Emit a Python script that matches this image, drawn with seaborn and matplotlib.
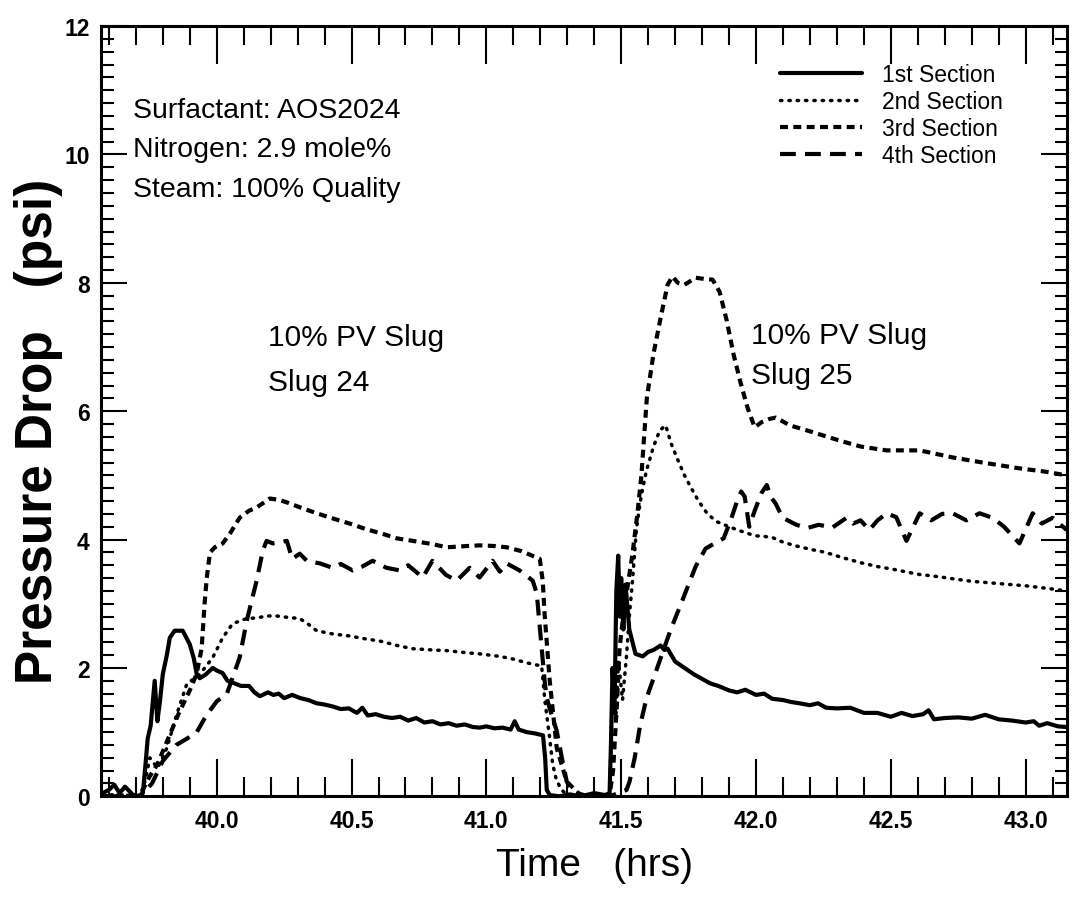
import matplotlib
matplotlib.use('Agg')
import matplotlib.pyplot as plt
from matplotlib.ticker import MultipleLocator
import pandas as pd
import seaborn as sns

# Section 1 (solid)
time_1 = [39.577, 39.60, 39.62, 39.64, 39.66, 39.69, 39.71, 39.726, 39.735, 39.744,
          39.755, 39.77, 39.78, 39.79, 39.80, 39.815, 39.826, 39.844, 39.874, 39.89,
          39.90, 39.915, 39.926, 39.937, 39.96, 39.985, 40.0, 40.022, 40.04, 40.06,
          40.09, 40.12, 40.14, 40.16, 40.19, 40.21, 40.23, 40.25, 40.28, 40.31,
          40.34, 40.37, 40.40, 40.43, 40.46, 40.49, 40.52, 40.54, 40.56, 40.59,
          40.62, 40.65, 40.68, 40.71, 40.74, 40.77, 40.80, 40.83, 40.86, 40.89,
          40.92, 40.95, 40.975, 41.0, 41.03, 41.06, 41.09, 41.105, 41.12, 41.15,
          41.18, 41.21, 41.218, 41.224, 41.235, 41.27, 41.31, 41.35, 41.40, 41.44,
          41.457, 41.462, 41.468, 41.475, 41.482, 41.489, 41.495, 41.50, 41.508, 41.516,
          41.53, 41.553, 41.58, 41.60, 41.62, 41.646, 41.66, 41.672, 41.70, 41.735,
          41.77, 41.80, 41.83, 41.86, 41.90, 41.93, 41.96, 42.0, 42.03, 42.06,
          42.10, 42.13, 42.16, 42.20, 42.23, 42.26, 42.30, 42.35, 42.40, 42.45,
          42.50, 42.54, 42.58, 42.62, 42.64, 42.66, 42.70, 42.75, 42.80, 42.85,
          42.90, 42.95, 43.00, 43.03, 43.05, 43.08, 43.12, 43.152]
dp_1 = [0.05, 0.10, 0.18, 0.05, 0.15, 0.02, 0.0, 0.05, 0.45, 0.90,
        1.10, 1.80, 1.17, 1.50, 1.90, 2.20, 2.47, 2.58, 2.58, 2.45,
        2.37, 2.15, 1.90, 1.84, 1.90, 2.00, 1.96, 1.92, 1.80, 1.77,
        1.72, 1.72, 1.62, 1.56, 1.62, 1.58, 1.60, 1.53, 1.58, 1.53,
        1.50, 1.45, 1.43, 1.40, 1.36, 1.37, 1.30, 1.38, 1.26, 1.28,
        1.24, 1.22, 1.24, 1.18, 1.22, 1.15, 1.17, 1.12, 1.14, 1.10,
        1.12, 1.08, 1.07, 1.09, 1.06, 1.07, 1.04, 1.17, 1.04, 1.00,
        0.98, 0.95, 0.60, 0.10, 0.02, 0.0, 0.03, 0.0, 0.05, 0.02,
        0.05, 0.80, 2.00, 1.30, 3.20, 3.75, 2.80, 3.40, 2.60, 3.30,
        2.60, 2.22, 2.18, 2.25, 2.28, 2.35, 2.28, 2.30, 2.10, 2.00,
        1.90, 1.83, 1.76, 1.72, 1.65, 1.62, 1.66, 1.58, 1.60, 1.52,
        1.50, 1.47, 1.45, 1.42, 1.45, 1.38, 1.37, 1.38, 1.30, 1.30,
        1.24, 1.30, 1.25, 1.28, 1.34, 1.20, 1.22, 1.23, 1.21, 1.27,
        1.20, 1.18, 1.15, 1.17, 1.10, 1.14, 1.09, 1.08]

# Section 2 (dotted)
time_2 = [39.577, 39.65, 39.70, 39.726, 39.74, 39.752, 39.781, 39.815, 39.852, 39.889,
          39.937, 39.985, 40.022, 40.059, 40.111, 40.15, 40.185, 40.222, 40.26, 40.308,
          40.34, 40.371, 40.43, 40.49, 40.556, 40.604, 40.679, 40.727, 40.80, 40.853,
          40.92, 40.975, 41.05, 41.098, 41.15, 41.205, 41.216, 41.235, 41.246, 41.26,
          41.279, 41.30, 41.35, 41.40, 41.457, 41.468, 41.48, 41.49, 41.505, 41.52,
          41.53, 41.542, 41.557, 41.575, 41.594, 41.62, 41.643, 41.665, 41.685, 41.706,
          41.735, 41.76, 41.787, 41.82, 41.854, 41.90, 41.932, 41.995, 42.03, 42.062,
          42.10, 42.15, 42.20, 42.258, 42.32, 42.388, 42.45, 42.518, 42.60, 42.68,
          42.729, 42.80, 42.914, 43.00, 43.08, 43.152]
dp_2 = [0.02, 0.03, 0.0, 0.10, 0.35, 0.60, 0.44, 0.75, 1.28, 1.75,
        1.90, 2.16, 2.47, 2.69, 2.77, 2.78, 2.81, 2.81, 2.79, 2.77,
        2.68, 2.58, 2.53, 2.50, 2.45, 2.42, 2.34, 2.30, 2.28, 2.27,
        2.24, 2.22, 2.18, 2.14, 2.08, 2.03, 1.53, 0.90, 0.50, 0.25,
        0.10, 0.02, 0.0, 0.02, 0.0, 1.80, 1.20, 2.10, 1.50, 2.20,
        2.80, 3.36, 4.19, 4.70, 5.08, 5.45, 5.70, 5.78, 5.50, 5.28,
        5.00, 4.80, 4.60, 4.40, 4.28, 4.20, 4.15, 4.06, 4.05, 4.03,
        3.96, 3.90, 3.85, 3.80, 3.72, 3.64, 3.58, 3.53, 3.46, 3.42,
        3.39, 3.35, 3.31, 3.28, 3.24, 3.20]

# Section 3 (short dashes)
time_3 = [39.577, 39.70, 39.726, 39.75, 39.78, 39.82, 39.86, 39.90, 39.925, 39.944,
          39.955, 39.963, 39.975, 39.993, 40.022, 40.05, 40.085, 40.12, 40.148, 40.197,
          40.23, 40.26, 40.31, 40.371, 40.43, 40.493, 40.556, 40.615, 40.667, 40.727,
          40.80, 40.853, 40.93, 40.975, 41.03, 41.075, 41.13, 41.198, 41.209, 41.216,
          41.235, 41.261, 41.298, 41.346, 41.40, 41.457, 41.47, 41.485, 41.494, 41.51,
          41.525, 41.542, 41.56, 41.575, 41.595, 41.62, 41.646, 41.672, 41.69, 41.71,
          41.735, 41.776, 41.81, 41.839, 41.865, 41.891, 41.917, 41.943, 41.969, 41.995,
          42.021, 42.05, 42.073, 42.10, 42.125, 42.19, 42.258, 42.32, 42.388, 42.484,
          42.607, 42.729, 42.855, 42.977, 43.07, 43.152]
dp_3 = [0.0, 0.02, 0.10, 0.30, 0.50, 0.90, 1.30, 1.65, 1.90, 2.30,
        3.00, 3.40, 3.80, 3.88, 3.94, 4.10, 4.34, 4.45, 4.50, 4.64,
        4.62, 4.58, 4.50, 4.41, 4.33, 4.25, 4.16, 4.09, 4.02, 3.98,
        3.93, 3.88, 3.90, 3.91, 3.90, 3.88, 3.82, 3.70, 3.36, 2.84,
        1.80, 0.75, 0.23, 0.03, 0.0, 0.02, 0.40, 1.50, 2.31, 2.90,
        3.30, 3.78, 4.40, 5.00, 6.20, 6.90, 7.45, 7.97, 8.10, 8.00,
        7.97, 8.08, 8.06, 8.05, 7.86, 7.42, 6.88, 6.44, 6.05, 5.75,
        5.83, 5.88, 5.90, 5.84, 5.78, 5.70, 5.61, 5.53, 5.45, 5.39,
        5.39, 5.28, 5.19, 5.11, 5.06, 5.00]

# Section 4 (long dashes)
time_4 = [39.577, 39.70, 39.72, 39.76, 39.80, 39.85, 39.89, 39.926, 39.96, 40.0,
          40.037, 40.085, 40.111, 40.148, 40.171, 40.185, 40.208, 40.26, 40.28, 40.308,
          40.334, 40.382, 40.43, 40.46, 40.504, 40.54, 40.578, 40.63, 40.679, 40.71,
          40.764, 40.80, 40.85, 40.89, 40.938, 40.975, 41.023, 41.05, 41.075, 41.123,
          41.172, 41.187, 41.205, 41.216, 41.224, 41.24, 41.261, 41.28, 41.298, 41.32,
          41.37, 41.457, 41.49, 41.52, 41.531, 41.55, 41.57, 41.594, 41.631, 41.683,
          41.735, 41.776, 41.813, 41.85, 41.88, 41.906, 41.93, 41.945, 41.958, 41.975,
          41.995, 42.021, 42.04, 42.054, 42.073, 42.099, 42.15, 42.19, 42.232, 42.284,
          42.336, 42.36, 42.388, 42.42, 42.451, 42.484, 42.52, 42.558, 42.607, 42.65,
          42.69, 42.729, 42.78, 42.829, 42.877, 42.92, 42.977, 43.026, 43.06, 43.10,
          43.152]
dp_4 = [0.0, 0.0, 0.02, 0.20, 0.55, 0.80, 0.90, 1.00, 1.25, 1.48,
        1.59, 2.16, 2.73, 3.36, 3.83, 3.98, 3.94, 3.98, 3.70, 3.78,
        3.67, 3.63, 3.56, 3.62, 3.52, 3.58, 3.67, 3.56, 3.52, 3.60,
        3.41, 3.67, 3.45, 3.36, 3.56, 3.41, 3.67, 3.50, 3.63, 3.52,
        3.36, 3.16, 2.31, 1.80, 1.53, 1.30, 1.02, 0.60, 0.23, 0.08,
        0.0, 0.0, 0.05, 0.10, 0.23, 0.60, 1.10, 1.53, 1.97, 2.59,
        3.14, 3.58, 3.86, 3.95, 4.02, 4.30, 4.60, 4.75, 4.67, 4.20,
        4.45, 4.73, 4.85, 4.67, 4.56, 4.34, 4.23, 4.18, 4.23, 4.19,
        4.34, 4.25, 4.30, 4.15, 4.30, 4.41, 4.35, 3.98, 4.41, 4.30,
        4.40, 4.41, 4.30, 4.41, 4.34, 4.20, 3.94, 4.41, 4.25, 4.34,
        4.15]

section_names = ['1st Section', '2nd Section', '3rd Section', '4th Section']
x_ticks = [40.0, 40.5, 41.0, 41.5, 42.0, 42.5, 43.0]
y_ticks = [0, 2, 4, 6, 8, 10, 12]


def main():
    sns.set_style('ticks')
    plt.rcParams['font.family'] = ['Liberation Sans', 'DejaVu Sans']
    plt.rcParams['text.color'] = 'black'
    plt.rcParams['axes.labelcolor'] = 'black'
    plt.rcParams['xtick.color'] = 'black'
    plt.rcParams['ytick.color'] = 'black'

    fig = plt.figure(figsize=(10.72, 9.04), dpi=100)
    ax = fig.add_axes([0.094, 0.118, 0.901, 0.852])

    styles = [
        dict(lw=3.0, linestyle='-'),
        dict(lw=2.5, linestyle=(0, (0.4, 2.0)), dash_capstyle='round'),
        dict(lw=3.0, linestyle=(0, (1.9, 1.3))),
        dict(lw=3.0, linestyle=(0, (3.8, 2.2))),
    ]
    series = [(time_1, dp_1), (time_2, dp_2), (time_3, dp_3), (time_4, dp_4)]
    for (t, dp), name, st in zip(series, section_names, styles):
        df = pd.DataFrame({'time': t, 'dp': dp})
        sns.lineplot(data=df, x='time', y='dp', ax=ax, color='black',
                     label=name, sort=False, **st)

    ax.set_xlim(39.57, 43.152)
    ax.set_ylim(0, 12)
    ax.set_xticks(x_ticks)
    ax.set_xticklabels([f'{v:.1f}' for v in x_ticks])
    ax.set_yticks(y_ticks)
    ax.xaxis.set_minor_locator(MultipleLocator(0.1))
    ax.yaxis.set_minor_locator(MultipleLocator(0.2))

    for sp in ax.spines.values():
        sp.set_visible(True)
        sp.set_linewidth(2.2)
        sp.set_color('black')
    ax.tick_params(axis='both', which='both', direction='in', color='black',
                   labelcolor='black', top=True, right=True, width=1.5)
    ax.tick_params(axis='x', which='major', length=27, pad=9)
    ax.tick_params(axis='x', which='minor', length=14)
    ax.tick_params(axis='y', which='major', length=19, pad=8)
    ax.tick_params(axis='y', which='minor', length=9)
    for lab in ax.get_xticklabels() + ax.get_yticklabels():
        lab.set_fontsize(16.5)
        lab.set_fontweight('bold')

    ax.set_xlabel('Time   (hrs)', fontsize=28, color='black')
    ax.xaxis.set_label_coords(0.511, -0.066)
    ax.set_ylabel('Pressure Drop   (psi)', fontsize=37, fontweight='bold',
                  color='black')
    ax.yaxis.set_label_coords(-0.039, 0.475)

    ax.text(39.69, 10.59, 'Surfactant: AOS2024', fontsize=20.5, va='baseline')
    ax.text(39.69, 9.97, 'Nitrogen: 2.9 mole%', fontsize=20.5, va='baseline')
    ax.text(39.69, 9.36, 'Steam: 100% Quality', fontsize=20.5, va='baseline')
    ax.text(40.19, 7.03, '10% PV Slug', fontsize=21.5, va='baseline')
    ax.text(40.19, 6.33, 'Slug 24', fontsize=21.5, va='baseline')
    ax.text(41.98, 7.06, '10% PV Slug', fontsize=21.5, va='baseline')
    ax.text(41.98, 6.44, 'Slug 25', fontsize=21.5, va='baseline')

    leg = ax.legend(loc='upper left', bbox_to_anchor=(0.703, 0.952), frameon=False,
                    fontsize=16.5, handlelength=3.6, handletextpad=0.85,
                    labelspacing=0.18, borderpad=0, borderaxespad=0)
    for txt in leg.get_texts():
        txt.set_color('black')

    fig.savefig('out.png', dpi=100)


if __name__ == '__main__':
    main()
